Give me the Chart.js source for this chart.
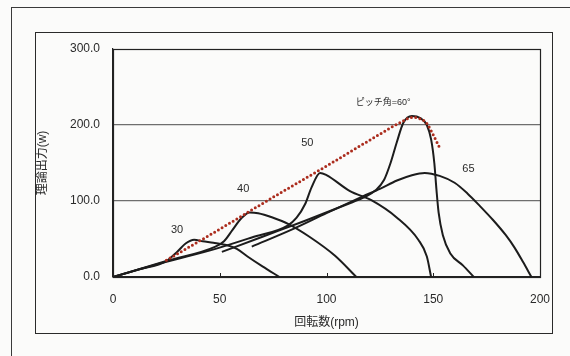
<!DOCTYPE html>
<html>
<head>
<meta charset="utf-8">
<script src="https://cdn.jsdelivr.net/npm/chart.js@4.4.0/dist/chart.umd.min.js"></script>
<style>
  html, body { margin: 0; padding: 0; background: #fbfbfa; }
  #wrap { position: relative; width: 570px; height: 356px; overflow: hidden; }
  .outer { position: absolute; left: 11px; top: 7px; width: 700px; height: 500px;
           border-left: 1.5px solid #3a3a3a; border-top: 1.5px solid #3a3a3a; }
  .inner { position: absolute; left: 35px; top: 32px; width: 518px; height: 302px;
           box-sizing: border-box; border: 1.5px solid #2a2a2a; }
  canvas { position: absolute; left: 0; top: 0; }
</style>
</head>
<body>
<div id="wrap">
  <div class="outer"></div>
  <div class="inner"></div>
  <canvas id="grafico" width="570" height="356"></canvas>
</div>
<script>
// valores (rpm / W)
const rpm30 = [0, 12, 25, 30, 34, 38, 42, 47, 53, 58, 63, 70, 78];
const pow30 = [0, 10, 21, 33, 44, 49, 47, 45, 42, 37, 27, 14, 0];

const rpm40 = [0, 25, 48, 52, 56, 60, 64, 68, 75, 82, 92, 104, 114];
const pow40 = [0, 21, 40, 47, 62, 77, 85, 84, 78, 70, 53, 28, 0];

const rpm50 = [0, 25, 48, 65, 82, 86, 90, 93, 97, 100, 111, 121, 133, 143, 147, 149];
const pow50 = [0, 20, 37, 52, 68, 78, 96, 118, 137, 134, 113, 101, 78, 49, 27, 0];

const rpm60 = [51, 70, 90, 110, 117, 123, 127, 130, 133, 136, 140, 144, 147, 149, 150.5, 151.5, 152.5, 154.5, 158, 164, 169];
const pow60 = [33, 53, 74, 96, 104, 114, 128, 150, 178, 203, 212, 209, 200, 181, 150, 115, 85, 55, 31, 15, 0];

const rpm65 = [65, 85, 100, 117, 125, 133, 140, 146, 153, 160, 166, 172, 178, 184, 188, 192, 196];
const pow65 = [40, 64, 84, 106, 116, 127, 134, 137, 133, 124, 110, 93, 75, 55, 39, 20, 0];

// linha pontilhada dos picos
const rpmPico = [25, 50, 75, 100, 125, 135, 140, 144, 147, 150, 153];
const powPico = [22, 63, 105, 146, 188, 204, 210, 208, 202, 187, 170];

const yTicks = [0, 100, 200, 300];
const xTicks = [0, 50, 100, 150, 200];

// rotulos das curvas
const curveLabels = ['30', '40', '50', 'ピッチ角=60°', '65'];
const labelRpm = [30, 61, 91, 126.5, 166.5];
const labelPow = [62, 116, 177, 230, 142];

const pts = (xs, ys) => xs.map((x, i) => ({ x: x, y: ys[i] }));

const curva = (xs, ys) => ({
    data: pts(xs, ys),
    borderColor: '#1c1c1c',
    borderWidth: 2,
    pointRadius: 0,
    cubicInterpolationMode: 'monotone',
    fill: false
});

const fonte = "'Liberation Sans', 'Noto Sans CJK JP', sans-serif";

// moldura da area do grafico + marcas internas + rotulos
const extras = {
    id: 'extras',
    afterDraw(chart) {
        const { ctx, chartArea: a, scales } = chart;
        ctx.save();
        ctx.strokeStyle = '#222';
        ctx.lineWidth = 1.2;
        ctx.strokeRect(a.left + 0.5, a.top + 0.5, a.right - a.left, a.bottom - a.top);

        ctx.lineWidth = 1;
        xTicks.slice(1, -1).forEach(v => {
            const px = Math.round(scales.x.getPixelForValue(v)) + 0.5;
            ctx.beginPath();
            ctx.moveTo(px, a.bottom);
            ctx.lineTo(px, a.bottom - 4);
            ctx.stroke();
        });

        ctx.fillStyle = '#2a2a2a';
        ctx.textAlign = 'center';
        ctx.textBaseline = 'middle';
        curveLabels.forEach((t, i) => {
            ctx.font = (i === 3 ? '9px ' : '11px ') + fonte;
            ctx.fillText(t, scales.x.getPixelForValue(labelRpm[i]), scales.y.getPixelForValue(labelPow[i]));
        });
        ctx.restore();
    }
};

new Chart(document.getElementById('grafico'), {
    type: 'line',
    data: {
        datasets: [
            {
                data: pts(rpmPico, powPico),
                borderColor: '#ab2c1d',
                borderWidth: 3,
                borderDash: [0, 4.3],
                borderCapStyle: 'round',
                pointRadius: 0,
                cubicInterpolationMode: 'monotone',
                fill: false
            },
            curva(rpm30, pow30),
            curva(rpm40, pow40),
            curva(rpm50, pow50),
            curva(rpm60, pow60),
            curva(rpm65, pow65)
        ]
    },
    options: {
        responsive: false,
        animation: false,
        layout: { padding: { left: 0, right: 30, top: 49, bottom: 0 } },
        plugins: { legend: { display: false }, tooltip: { enabled: false } },
        scales: {
            x: {
                type: 'linear',
                min: 0,
                max: 200,
                afterFit: s => { s.height = 79; },
                afterBuildTicks: s => { s.ticks = xTicks.map(v => ({ value: v })); },
                grid: { display: false, drawTicks: false },
                border: { display: true, color: '#222', width: 1.2 },
                ticks: {
                    padding: 15,
                    color: '#2a2a2a',
                    font: { family: fonte, size: 12 },
                    maxRotation: 0
                },
                title: {
                    display: true,
                    text: '回転数(rpm)',
                    color: '#2a2a2a',
                    font: { family: fonte, size: 12 },
                    padding: { top: 0, bottom: 26 }
                }
            },
            y: {
                min: 0,
                max: 300,
                afterFit: s => { s.width = 113; },
                afterBuildTicks: s => { s.ticks = yTicks.map(v => ({ value: v })); },
                grid: {
                    drawTicks: false,
                    color: c => (c.tick.value === 100 || c.tick.value === 200) ? '#6e6e6e' : 'rgba(0,0,0,0)',
                    lineWidth: 1.2
                },
                border: { display: true, color: '#222', width: 1.2 },
                ticks: {
                    padding: 13,
                    color: '#2a2a2a',
                    font: { family: fonte, size: 12 },
                    callback: v => v.toFixed(1)
                },
                title: {
                    display: true,
                    text: '理論出力(w)',
                    color: '#2a2a2a',
                    font: { family: fonte, size: 12 },
                    padding: { top: 35, bottom: 0 }
                }
            }
        }
    },
    plugins: [extras]
});
</script>
</body>
</html>
